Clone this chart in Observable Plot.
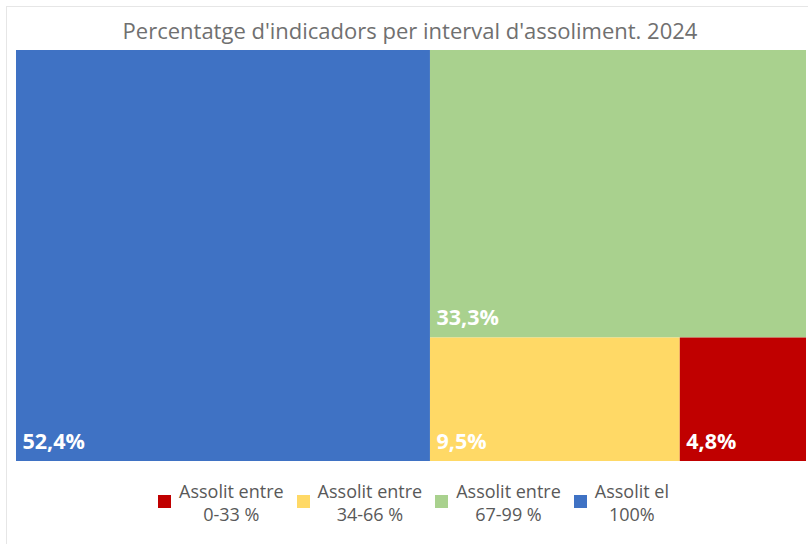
<!DOCTYPE html>
<html><head><meta charset="utf-8">
<script src="https://cdn.jsdelivr.net/npm/d3@7"></script>
<script src="https://cdn.jsdelivr.net/npm/@observablehq/plot@0.6"></script>
<style>
body{margin:0;background:#fff;font-family:"Open Sans",sans-serif;}
#wrap{position:relative;width:808px;height:544px;overflow:hidden;background:#fff;}
#frame{position:absolute;left:6px;top:6px;width:830px;height:560px;border:1px solid #e6e6e6;box-sizing:border-box;}
#title{position:absolute;left:0;top:15px;width:820px;text-align:center;font-size:22px;color:#707070;white-space:nowrap;}
#chart{position:absolute;left:0;top:50px;}
#legend{position:absolute;left:0;top:480px;width:827px;display:flex;justify-content:center;gap:13px;}
.item{display:flex;align-items:center;}
.sw{width:13px;height:13px;margin-right:8px;margin-top:-4px;}
.lt{font-size:18px;line-height:23px;color:#595959;text-align:center;white-space:pre;}
</style></head>
<body><div id="wrap"><div id="frame"></div><div id="title"></div><div id="chart"></div><div id="legend"></div></div>
<script>
const title = "Percentatge d'indicadors per interval d'assoliment. 2024";
const categories = ["Assolit entre\n0-33 %", "Assolit entre\n34-66 %", "Assolit entre\n67-99 %", "Assolit el\n100%"];
const values = [4.8, 9.5, 33.3, 52.4];
const valueLabels = ["4,8%", "9,5%", "33,3%", "52,4%"];
const colors = ["#c00000", "#ffd966", "#a9d18e", "#3f72c4"];

document.getElementById("title").textContent = title;

const rows = categories.map((c, i) => ({category: c, value: values[i], label: valueLabels[i]}));
const W = 790, H = 411;
const root = d3.hierarchy({children: rows})
  .sum(d => d.value || 0)
  .sort((a, b) => b.value - a.value);
d3.treemap().tile(d3.treemapBinary).size([W, H]).round(false)(root);
const leaves = root.leaves();

const plot = Plot.plot({
  width: 808, height: H,
  marginLeft: 16, marginRight: 2, marginTop: 0, marginBottom: 0,
  x: {domain: [0, W], range: [16, 806], axis: null},
  y: {domain: [0, H], range: [0, H], axis: null},
  color: {domain: categories, range: colors},
  style: {fontFamily: "Open Sans, sans-serif", background: "transparent"},
  marks: [
    Plot.rect(leaves, {x1: d => d.x0, x2: d => d.x1, y1: d => d.y0, y2: d => d.y1, fill: d => d.data.category}),
    Plot.text(leaves, {x: d => d.x0, y: d => d.y1, text: d => d.data.label, dx: 6, dy: -13, textAnchor: "start", lineAnchor: "bottom", fill: "white", fontWeight: "bold", fontSize: 21.5})
  ]
});
document.getElementById("chart").appendChild(plot);

const legend = document.getElementById("legend");
categories.forEach((c, i) => {
  const it = document.createElement("div"); it.className = "item";
  const sw = document.createElement("div"); sw.className = "sw"; sw.style.background = colors[i];
  const lt = document.createElement("div"); lt.className = "lt"; lt.textContent = c;
  it.appendChild(sw); it.appendChild(lt); legend.appendChild(it);
});
</script></body></html>
